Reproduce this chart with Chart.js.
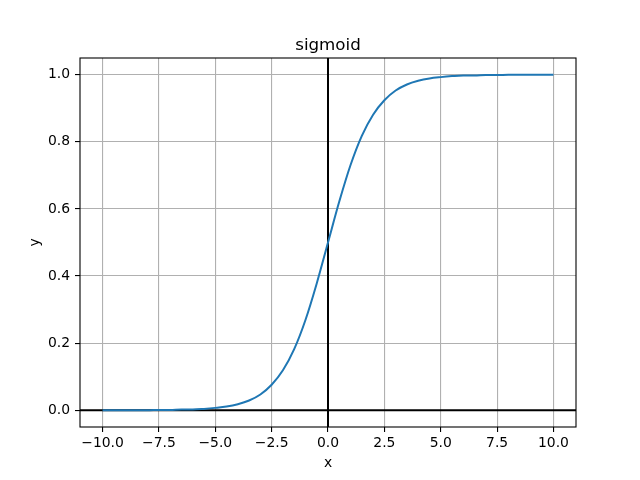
<!DOCTYPE html>
<html>
<head>
<meta charset="utf-8">
<script src="https://cdn.jsdelivr.net/npm/chart.js@4/dist/chart.umd.min.js"></script>
<style>
    html, body { margin: 0; padding: 0; background: #fff; }
    #box { width: 640px; height: 480px; }
</style>
</head>
<body>
<div id="box"><canvas id="sigmoidChart" width="640" height="480"></canvas></div>
<script>
// 曲线取样点
const xValues = [-10, -9.5, -9, -8.5, -8, -7.5, -7, -6.5, -6, -5.5, -5, -4.5, -4, -3.5, -3, -2.5, -2, -1.5, -1, -0.5,
    0, 0.5, 1, 1.5, 2, 2.5, 3, 3.5, 4, 4.5, 5, 5.5, 6, 6.5, 7, 7.5, 8, 8.5, 9, 9.5, 10];
const yValues = [0.000, 0.000, 0.000, 0.000, 0.000, 0.001, 0.001, 0.002, 0.002, 0.004, 0.007, 0.011, 0.018, 0.029, 0.047, 0.076, 0.119, 0.182, 0.269, 0.378,
    0.500, 0.622, 0.731, 0.818, 0.881, 0.924, 0.953, 0.971, 0.982, 0.989, 0.993, 0.996, 0.998, 0.998, 0.999, 0.999, 1.000, 1.000, 1.000, 1.000, 1.000];
const xTicks = [-10, -7.5, -5, -2.5, 0, 2.5, 5, 7.5, 10];
const yTicks = [0, 0.2, 0.4, 0.6, 0.8, 1.0];

const FONT = 'DejaVu Sans';

function fmt(v) {
    const s = v.toFixed(1);
    return v < 0 ? '\u2212' + s.slice(1) : s;
}

// 坐标轴零线、边框和标题
const decorPlugin = {
    id: 'decor',
    beforeDatasetsDraw(chart) {
        const ctx = chart.ctx;
        const a = chart.chartArea;
        const xs = chart.scales.x, ys = chart.scales.y;
        ctx.save();
        ctx.strokeStyle = '#000';
        ctx.lineWidth = 2;
        const y0 = ys.getPixelForValue(0);
        const x0 = xs.getPixelForValue(0);
        ctx.beginPath();
        ctx.moveTo(a.left, y0); ctx.lineTo(a.right, y0);
        ctx.moveTo(x0, a.top); ctx.lineTo(x0, a.bottom);
        ctx.stroke();
        ctx.restore();
    },
    afterDraw(chart) {
        const ctx = chart.ctx;
        const a = chart.chartArea;
        ctx.save();
        ctx.strokeStyle = '#000';
        ctx.lineWidth = 1.1;
        ctx.strokeRect(a.left, a.top, a.right - a.left, a.bottom - a.top);
        ctx.fillStyle = '#000';
        ctx.textAlign = 'center';
        ctx.textBaseline = 'alphabetic';
        ctx.font = '16.7px "' + FONT + '"';
        ctx.fillText('sigmoid', (a.left + a.right) / 2, 50);
        ctx.font = '13.9px "' + FONT + '"';
        ctx.fillText('x', (a.left + a.right) / 2, 467);
        ctx.translate(39, (a.top + a.bottom) / 2);
        ctx.rotate(-Math.PI / 2);
        ctx.fillText('y', 0, 0);
        ctx.restore();
    }
};

document.addEventListener('DOMContentLoaded', function() {
    const ctx = document.getElementById('sigmoidChart').getContext('2d');
    new Chart(ctx, {
        type: 'scatter',
        data: {
            datasets: [{
                data: xValues.map((x, i) => ({ x: x, y: yValues[i] })),
                showLine: true,
                borderColor: '#1f77b4',
                borderWidth: 2,
                pointRadius: 0,
                cubicInterpolationMode: 'monotone'
            }]
        },
        options: {
            responsive: false,
            animation: false,
            layout: { padding: { left: 0, right: 64, top: 58, bottom: 0 } },
            plugins: { legend: { display: false }, tooltip: { enabled: false } },
            scales: {
                x: {
                    type: 'linear',
                    min: -11, max: 11,
                    afterFit: (s) => { s.height = 53; },
                    afterBuildTicks: (s) => { s.ticks = xTicks.map(v => ({ value: v })); },
                    grid: { color: '#b0b0b0', lineWidth: 1.1, tickColor: '#000', tickLength: 5, drawOnChartArea: true },
                    border: { display: false },
                    ticks: {
                        color: '#000',
                        font: { family: FONT, size: 13.9 },
                        padding: 3,
                        maxRotation: 0,
                        callback: (v) => fmt(v)
                    }
                },
                y: {
                    type: 'linear',
                    min: -0.05, max: 1.05,
                    afterFit: (s) => { s.width = 80; },
                    afterBuildTicks: (s) => { s.ticks = yTicks.map(v => ({ value: v })); },
                    grid: { color: '#b0b0b0', lineWidth: 1.1, tickColor: '#000', tickLength: 5 },
                    border: { display: false },
                    ticks: {
                        color: '#000',
                        font: { family: FONT, size: 13.9 },
                        padding: 5,
                        callback: (v) => fmt(v)
                    }
                }
            }
        },
        plugins: [decorPlugin]
    });
});
</script>
</body>
</html>
